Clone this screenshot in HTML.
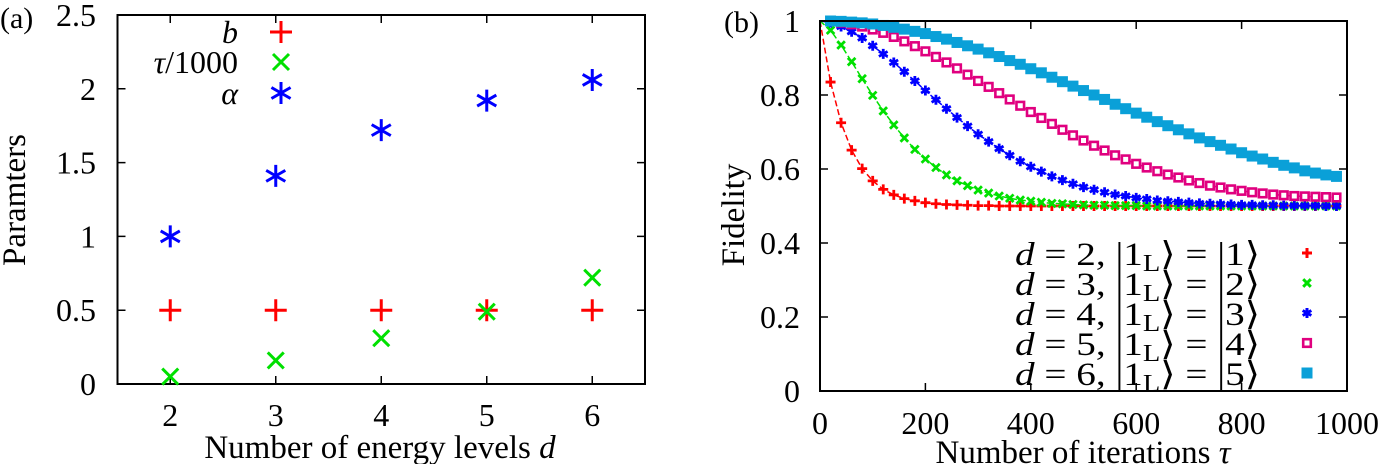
<!DOCTYPE html>
<html><head><meta charset="utf-8"><style>
html,body{margin:0;padding:0;background:#fff;}
svg{display:block;font-family:"Liberation Serif","DejaVu Serif",serif;}
</style></head><body>
<svg id="c" width="1382" height="464" viewBox="0 0 1382 464" xmlns="http://www.w3.org/2000/svg"></svg>
<script>
// ---- Panel (a) data ----
const levels = [2, 3, 4, 5, 6];
const bVals = [0.5, 0.5, 0.5, 0.5, 0.5];
const tauVals = [0.05, 0.16, 0.31, 0.49, 0.72];
const alphaVals = [1.0, 1.41, 1.72, 1.92, 2.06];
const aYTicks = ["0", "0.5", "1", "1.5", "2", "2.5"];
const aXTicks = ["2", "3", "4", "5", "6"];
// ---- Panel (b) data ----
const iters = [20,40,60,80,100,120,140,160,180,200,220,240,260,280,300,320,340,360,380,400,420,440,460,480,500,520,540,560,580,600,620,640,660,680,700,720,740,760,780,800,820,840,860,880,900,920,940,960,980];
const fid2 = [0.835,0.725,0.651,0.601,0.568,0.545,0.530,0.520,0.514,0.509,0.506,0.504,0.503,0.502,0.501,0.501,0.500,0.500,0.500,0.500,0.500,0.500,0.500,0.500,0.500,0.500,0.500,0.500,0.500,0.500,0.500,0.500,0.500,0.500,0.500,0.500,0.500,0.500,0.500,0.500,0.500,0.500,0.500,0.500,0.500,0.500,0.500,0.500,0.500];
const fid3 = [0.975,0.935,0.890,0.844,0.799,0.757,0.719,0.684,0.653,0.627,0.604,0.584,0.568,0.555,0.543,0.535,0.527,0.521,0.516,0.513,0.510,0.507,0.506,0.504,0.503,0.502,0.502,0.501,0.501,0.501,0.500,0.500,0.500,0.500,0.500,0.500,0.500,0.500,0.500,0.500,0.500,0.500,0.500,0.500,0.500,0.500,0.500,0.500,0.500];
const fid4 = [0.996,0.985,0.971,0.954,0.933,0.911,0.888,0.863,0.838,0.812,0.787,0.763,0.739,0.716,0.694,0.674,0.655,0.637,0.621,0.606,0.593,0.580,0.570,0.560,0.551,0.544,0.537,0.531,0.527,0.522,0.519,0.515,0.513,0.511,0.509,0.507,0.506,0.505,0.504,0.503,0.503,0.502,0.502,0.501,0.501,0.501,0.501,0.500,0.500];
const fid5 = [0.999,0.996,0.991,0.985,0.977,0.968,0.957,0.945,0.932,0.918,0.903,0.888,0.872,0.855,0.838,0.822,0.805,0.788,0.771,0.754,0.738,0.722,0.706,0.691,0.677,0.663,0.650,0.637,0.626,0.614,0.604,0.594,0.585,0.577,0.569,0.562,0.555,0.550,0.545,0.541,0.537,0.534,0.531,0.529,0.527,0.526,0.525,0.524,0.523];
const fid6 = [1.000,0.999,0.997,0.995,0.992,0.988,0.983,0.978,0.972,0.966,0.958,0.951,0.942,0.933,0.924,0.914,0.904,0.893,0.883,0.871,0.860,0.848,0.836,0.824,0.812,0.800,0.788,0.775,0.763,0.751,0.740,0.728,0.717,0.706,0.695,0.684,0.674,0.664,0.654,0.644,0.635,0.627,0.618,0.610,0.603,0.595,0.589,0.584,0.580];
const bXTicks = ["0", "200", "400", "600", "800", "1000"];
const bYTicks = ["0", "0.2", "0.4", "0.6", "0.8", "1"];

const NS = "http://www.w3.org/2000/svg";
const svg = document.getElementById('c');
function mk(tag, attrs, parent) {
  const e = document.createElementNS(NS, tag);
  for (const k in attrs) e.setAttribute(k, attrs[k]);
  (parent || svg).appendChild(e);
  return e;
}
const ax = v => 117.5 + (v - 1.5) * 105.5;
const ay = v => 384 - v * 147.6;
const bx = v => 820 + v * 0.527;
const by = v => 391 - v * 370;

function marker(type, x, y, color, g, s) {
  let e;
  if (type === 'plus') {
    e = mk('path', {d:`M${x-s} ${y}H${x+s}M${x} ${y-s}V${y+s}`, stroke:color, 'stroke-width':3, fill:'none'}, g);
  } else if (type === 'x') {
    e = mk('path', {d:`M${x-s} ${y-s}L${x+s} ${y+s}M${x-s} ${y+s}L${x+s} ${y-s}`, stroke:color, 'stroke-width':3, fill:'none'}, g);
  } else if (type === 'star') {
    e = mk('path', {d:`M${x} ${y-s}V${y+s}M${x-s*0.87} ${y-s*0.5}L${x+s*0.87} ${y+s*0.5}M${x-s*0.87} ${y+s*0.5}L${x+s*0.87} ${y-s*0.5}`, stroke:color, 'stroke-width':3, fill:'none'}, g);
  } else if (type === 'osq') {
    e = mk('rect', {x:x-s+1.2, y:y-s+1.2, width:2*s-2.4, height:2*s-2.4, stroke:color, 'stroke-width':2.6, fill:'#fff'}, g);
  } else if (type === 'sq') {
    e = mk('rect', {x:x-s, y:y-s, width:2*s, height:2*s, fill:color}, g);
  }
  return e;
}
function text(str, x, y, attrs, parent) {
  const t = mk('text', Object.assign({x:x, y:y, 'font-size':32, fill:'#000'}, attrs||{}), parent);
  t.textContent = str;
  return t;
}

// ===== Panel (a) =====
const ga = mk('g', {});


text('(a)', 0, 28, {'font-size':30}, ga);
aYTicks.forEach((t) => {
  const y = ay(parseFloat(t));
  mk('path', {d:`M${ax(1.5)} ${y}h8M${ax(6.5)} ${y}h-8`, stroke:'#000','stroke-width':1.5}, ga);
  const e = text(t, 96, y + 11, {'text-anchor':'end'}, ga);
  
  
});
aXTicks.forEach((t) => {
  const x = ax(parseFloat(t));
  mk('path', {d:`M${x} ${ay(0)}v-8M${x} ${ay(2.5)}v8`, stroke:'#000','stroke-width':1.5}, ga);
  const e = text(t, x, 426, {'text-anchor':'middle'}, ga);
  
  
});
const fa = mk('rect', {x:ax(1.5), y:ay(2.5), width:ax(6.5)-ax(1.5), height:ay(0)-ay(2.5), fill:'none', stroke:'#000', 'stroke-width':2}, ga);


const ayl = text('Paramters', 0, 0, {'text-anchor':'middle', transform:'translate(25 200) rotate(-90)', 'font-size':33}, ga);


const axl = mk('text', {x:380, y:458, 'font-size':33, 'text-anchor':'middle'}, ga);
axl.innerHTML = 'Number of energy levels <tspan font-style="italic">d</tspan>';


const la = [['b','plus','#ff0000',32],['τ/1000','x','#00e000',62],['α','star','#0000ff',93]];
la.forEach(([lab, type, col, y]) => {
  const e = mk('text', {x:238, y:y + 11, 'font-size':32, 'text-anchor':'end'}, ga);
  if (lab === 'τ/1000') e.innerHTML = '<tspan font-style="italic">τ</tspan>/1000';
  else { e.setAttribute('font-style','italic'); e.textContent = lab; }
  
  
  const m = marker(type, 281, y, col, ga, type === 'x' ? 8 : 11);
  
  
});
levels.forEach((d, i) => {
  let m = marker('plus', ax(d), ay(bVals[i]), '#ff0000', ga, 11);
  
  
  m = marker('x', ax(d), ay(tauVals[i]), '#00e000', ga, 8);
  
  
  m = marker('star', ax(d), ay(alphaVals[i]), '#0000ff', ga, 11);
  
  
});

// ===== Panel (b) =====
const gb = mk('g', {});


text('(b)', 724, 32, {'font-size':30}, gb);
bYTicks.forEach((t) => {
  const y = by(parseFloat(t));
  mk('path', {d:`M${bx(0)} ${y}h8M${bx(1000)} ${y}h-8`, stroke:'#000','stroke-width':1.5}, gb);
  const e = text(t, 800, y + 11, {'text-anchor':'end'}, gb);
  
  
});
bXTicks.forEach((t) => {
  const x = bx(parseFloat(t));
  mk('path', {d:`M${x} ${by(0)}v-8M${x} ${by(1)}v8`, stroke:'#000','stroke-width':1.5}, gb);
  const e = text(t, x, 434, {'text-anchor':'middle'}, gb);
  
  
});
const byl = text('Fidelity', 0, 0, {'text-anchor':'middle', transform:'translate(744 215) rotate(-90)', 'font-size':33}, gb);


const bxl = mk('text', {x:1083, y:463, 'font-size':33, 'text-anchor':'middle'}, gb);
bxl.innerHTML = 'Number of iterations <tspan font-style="italic">τ</tspan>';



const series = [
  [fid2, 'plus', '#ff0000', 5, '2', '1'],
  [fid3, 'x', '#00e000', 3.8, '3', '2'],
  [fid4, 'star', '#0000ff', 5, '4', '3'],
  [fid5, 'osq', '#e0007f', 5, '5', '4'],
  [fid6, 'sq', '#0aa0d8', 5.5, '6', '5']
];
series.forEach(([vals, type, col, s, d, k], si) => {
  const g = mk('g', {}, gb);
  
  
  const pts = `${bx(0)},${by(1)} ` + iters.map((t, i) => `${bx(t)},${by(vals[i])}`).join(' ');
  const ln = mk('polyline', {points:pts, fill:'none', stroke:col, 'stroke-width':1.5, 'stroke-dasharray':'6 3'}, g);
  
  
  iters.forEach((t, i) => {
    const m = marker(type, bx(t), by(vals[i]), col, g, s);
    if (type === 'plus' || type === 'x' || type === 'star') m.setAttribute('stroke-width', 2.8);
    
    
  });
  const ly = 253 + si * 30;
  const lt = mk('text', {x:1015, y:ly + 12, 'font-size':33, textLength:245, lengthAdjust:'spacingAndGlyphs'}, gb);
  lt.innerHTML = `<tspan font-style="italic">d</tspan> = ${d}, |1<tspan font-size="24" dy="6">L</tspan><tspan dy="-6">⟩ = |${k}⟩</tspan>`;
  
  
  const lm = marker(type, 1307, ly, col, gb, s);
  
  
});
const fb = mk('rect', {x:bx(0), y:by(1), width:bx(1000)-bx(0), height:by(0)-by(1), fill:'none', stroke:'#000', 'stroke-width':2}, gb);


</script>
</body></html>
